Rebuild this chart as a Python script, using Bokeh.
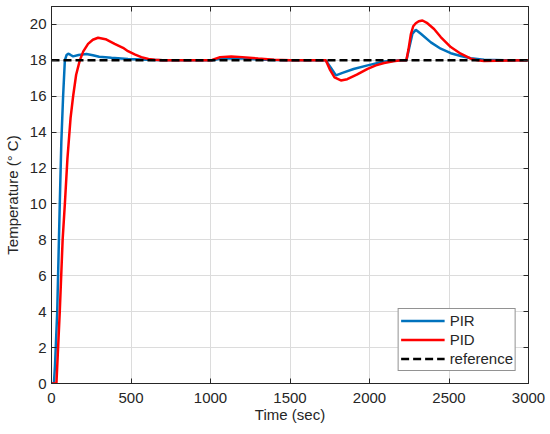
from bokeh.plotting import figure
from bokeh.models import (Range1d, FixedTicker, LinearAxis, Legend, LegendItem,
                          CustomLabelingPolicy)
from bokeh.embed import file_html
from bokeh.resources import INLINE

# PIR controller response (time s, temperature °C)
pir_t = [0, 15, 22, 36, 52, 62, 73, 84, 95, 105, 120, 136, 170, 220, 260, 300, 377, 481, 607,
         700, 1000, 1010, 1050, 1100, 1200, 1300, 1400, 1500, 1725, 1760, 1789, 1830, 1900,
         1988, 2092, 2197, 2232, 2250, 2270, 2291, 2323, 2386, 2448, 2511, 2574, 2637, 2720,
         2850, 3000]
pir_v = [0, 0, 1, 4, 10, 13.5, 16, 18, 18.3, 18.37, 18.3, 18.22, 18.3, 18.35, 18.28, 18.2,
         18.14, 18.08, 18.03, 18.0, 18.0, 18.0, 18.08, 18.12, 18.1, 18.05, 18.02, 18.0, 18.0,
         17.55, 17.16, 17.3, 17.52, 17.72, 17.94, 18.0, 18.0, 18.7, 19.48, 19.7, 19.48, 19.0,
         18.65, 18.4, 18.24, 18.12, 18.03, 18.01, 18.0]

# PID controller response
pid_t = [0, 31, 52, 70, 84, 100, 120, 136, 155, 178, 200, 230, 260, 293, 340, 397, 450, 481,
         523, 565, 610, 649, 700, 1000, 1010, 1060, 1130, 1200, 1300, 1400, 1500, 1725, 1750,
         1780, 1820, 1860, 1920, 1988, 2040, 2092, 2150, 2197, 2232, 2245, 2260, 2275, 2291,
         2310, 2333, 2364, 2406, 2448, 2511, 2574, 2637, 2680, 2720, 2800, 3000]
pid_v = [0, 0, 4, 8, 10, 12.5, 14.8, 16, 17.2, 18, 18.5, 18.92, 19.15, 19.26, 19.18, 18.92,
         18.7, 18.51, 18.33, 18.18, 18.08, 18.03, 18.0, 18.0, 18.02, 18.18, 18.22, 18.18, 18.1,
         18.04, 18.01, 18.0, 17.5, 17.05, 16.88, 16.95, 17.2, 17.53, 17.72, 17.85, 17.95, 18.0,
         18.0, 18.6, 19.45, 19.9, 20.07, 20.18, 20.22, 20.07, 19.75, 19.3, 18.74, 18.37, 18.09,
         18.0, 17.97, 17.98, 18.0]

# reference setpoint
ref_t = [0, 3000]
ref_v = [18, 18]

x_ticks = [0, 500, 1000, 1500, 2000, 2500, 3000]
y_ticks = [0, 2, 4, 6, 8, 10, 12, 14, 16, 18, 20]

FONT = "Liberation Sans"
DARK = "#262626"
FS = "15px"

p = figure(width=550, height=434, output_backend="svg", toolbar_location=None,
           x_range=Range1d(0, 3000), y_range=Range1d(0, 21),
           min_border_left=50, min_border_right=22, min_border_top=6, min_border_bottom=51,
           background_fill_color="white", border_fill_color="white")

p.outline_line_color = DARK
p.outline_line_width = 1


def style_axis(ax):
    ax.major_tick_in = 5
    ax.major_tick_out = 0
    ax.minor_tick_in = 0
    ax.minor_tick_out = 0
    ax.axis_line_color = DARK
    ax.major_tick_line_color = DARK
    ax.major_label_text_font = FONT
    ax.major_label_text_font_size = FS
    ax.major_label_text_color = DARK
    ax.axis_label_text_font = FONT
    ax.axis_label_text_font_size = FS
    ax.axis_label_text_font_style = "normal"
    ax.axis_label_text_color = DARK


style_axis(p.xaxis[0])
style_axis(p.yaxis[0])
p.xaxis[0].ticker = FixedTicker(ticks=x_ticks)
p.yaxis[0].ticker = FixedTicker(ticks=y_ticks)
p.xaxis[0].axis_label = "Time (sec)"
p.yaxis[0].axis_label = "Temperature (° C)"
p.xaxis[0].major_label_standoff = 9
p.xaxis[0].axis_label_standoff = 0
p.yaxis[0].major_label_standoff = 5
p.yaxis[0].axis_label_standoff = 6

# tick-only box axes (top and right), labels filtered out
no_labels = CustomLabelingPolicy(code="for (const i of [...indices]) { indices.unset(i) }")
for loc, tks in (("above", x_ticks), ("right", y_ticks)):
    ax = LinearAxis(ticker=FixedTicker(ticks=tks))
    style_axis(ax)
    ax.major_label_text_font_size = "1px"
    ax.major_label_standoff = 0
    ax.major_label_policy = no_labels
    p.add_layout(ax, loc)

p.xgrid.ticker = FixedTicker(ticks=x_ticks)
p.ygrid.ticker = FixedTicker(ticks=y_ticks)
p.grid.grid_line_color = "#dcdcdc"
p.grid.grid_line_width = 1

r1 = p.line(pir_t, pir_v, line_color="#0072BD", line_width=2.5)
r2 = p.line(pid_t, pid_v, line_color="#FF0000", line_width=2.5)
r3 = p.line(ref_t, ref_v, line_color="black", line_width=2.5, line_dash="8 4")

legend = Legend(items=[LegendItem(label="PIR", renderers=[r1]),
                       LegendItem(label="PID", renderers=[r2]),
                       LegendItem(label="reference", renderers=[r3])],
                location="bottom_right")
legend.margin = 12
legend.padding = 2
legend.spacing = 0
legend.glyph_width = 44
legend.glyph_height = 19
legend.label_height = 19
legend.label_standoff = 5
legend.label_text_font = FONT
legend.label_text_font_size = FS
legend.label_text_color = DARK
legend.border_line_color = DARK
legend.border_line_width = 1
legend.background_fill_color = "white"
legend.background_fill_alpha = 1
p.add_layout(legend, "center")

open("out.html", "w").write(file_html(p, INLINE))
